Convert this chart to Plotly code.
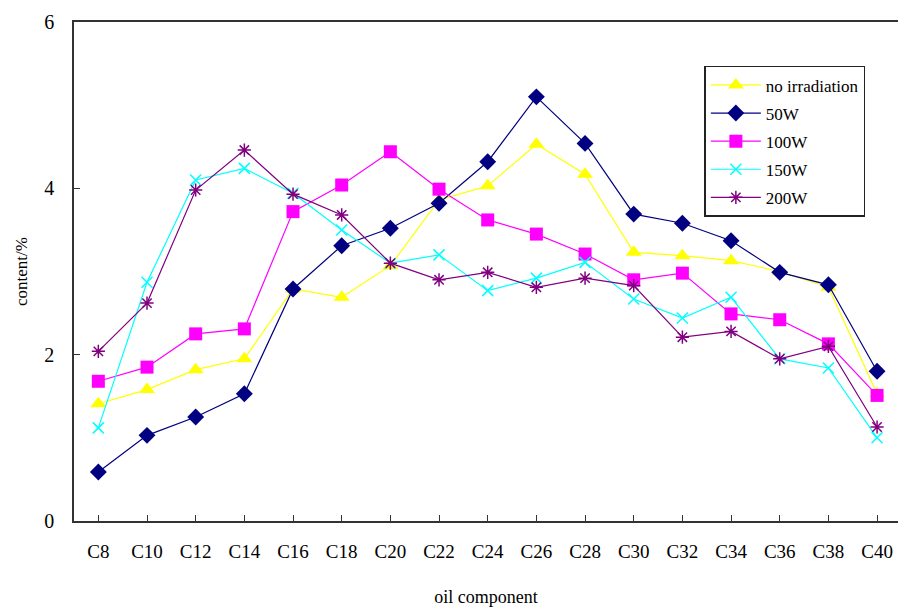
import plotly.graph_objects as go

categories = ["C8", "C10", "C12", "C14", "C16", "C18", "C20", "C22", "C24",
              "C26", "C28", "C30", "C32", "C34", "C36", "C38", "C40"]
no_irradiation = [1.41, 1.58, 1.82, 1.95, 2.79, 2.69, 3.07, 3.86, 4.03, 4.53,
                  4.17, 3.23, 3.19, 3.13, 3.00, 2.81, 1.53]
w50 = [0.59, 1.03, 1.25, 1.53, 2.79, 3.31, 3.52, 3.82, 4.32, 5.10,
       4.54, 3.69, 3.58, 3.37, 2.99, 2.84, 1.80]
w100 = [1.68, 1.85, 2.25, 2.31, 3.72, 4.04, 4.44, 3.99, 3.62, 3.45,
        3.21, 2.90, 2.98, 2.49, 2.42, 2.13, 1.51]
w150 = [1.12, 2.87, 4.10, 4.24, 3.94, 3.50, 3.10, 3.20, 2.77, 2.92,
        3.11, 2.67, 2.44, 2.69, 1.95, 1.84, 1.00]
w200 = [2.04, 2.62, 3.98, 4.46, 3.93, 3.68, 3.10, 2.90, 2.99, 2.81,
        2.92, 2.83, 2.21, 2.28, 1.95, 2.10, 1.13]
y_ticks = [0, 2, 4, 6]

series = [
    ("no irradiation", no_irradiation, "#FFFF00", "triangle-up", 14, None),
    ("50W", w50, "#000080", "diamond", 13, None),
    ("100W", w100, "#FF00FF", "square", 13, None),
    ("150W", w150, "#00FFFF", "x-thin-open", 11, 1.5),
    ("200W", w200, "#800080", "asterisk-open", 11, 1.5),
]

FONT = "Liberation Serif"
fig = go.Figure()
for name, vals, color, sym, size, lw in series:
    marker = dict(symbol=sym, size=size, color=color)
    if lw:
        marker["line"] = dict(color=color, width=lw)
    fig.add_trace(go.Scatter(
        x=list(range(len(categories))), y=vals, name=name, mode="lines+markers",
        legendgroup=name,
        line=dict(color=color, width=1.2), marker=marker, cliponaxis=False))

fig.update_layout(
    width=898, height=608,
    margin=dict(l=74, r=0, t=22, b=87),
    paper_bgcolor="white", plot_bgcolor="white",
    font=dict(family=FONT, color="black"),
    showlegend=True,
    legend=dict(x=0.765, y=0.912, xanchor="left", yanchor="top",
                bordercolor="#222222", borderwidth=1.5, bgcolor="white",
                font=dict(family=FONT, size=17), itemwidth=50,
                tracegroupgap=3),
)
fig.update_xaxes(
    range=[-0.5, 16.43], tickmode="array",
    tickvals=list(range(len(categories))), ticktext=categories,
    showline=True, linecolor="#333333", linewidth=1.5, mirror=True,
    ticks="inside", ticklen=6, tickcolor="#333333", tickson="boundaries",
    showgrid=False, zeroline=False, tickfont=dict(size=19, family=FONT),
    ticklabelstandoff=12,
    title=dict(text="oil component", font=dict(size=18, family=FONT), standoff=30),
)
fig.update_yaxes(
    range=[0, 6], tickmode="array", tickvals=y_ticks,
    ticktext=[str(v) for v in y_ticks],
    showline=True, linecolor="#333333", linewidth=1.5, mirror=False,
    ticks="inside", ticklen=6, tickcolor="#333333",
    showgrid=False, zeroline=False, tickfont=dict(size=20, family=FONT),
    ticklabelstandoff=14,
    title=dict(text="content/%", font=dict(size=17, family=FONT), standoff=12),
)
fig.write_html("out.html")
